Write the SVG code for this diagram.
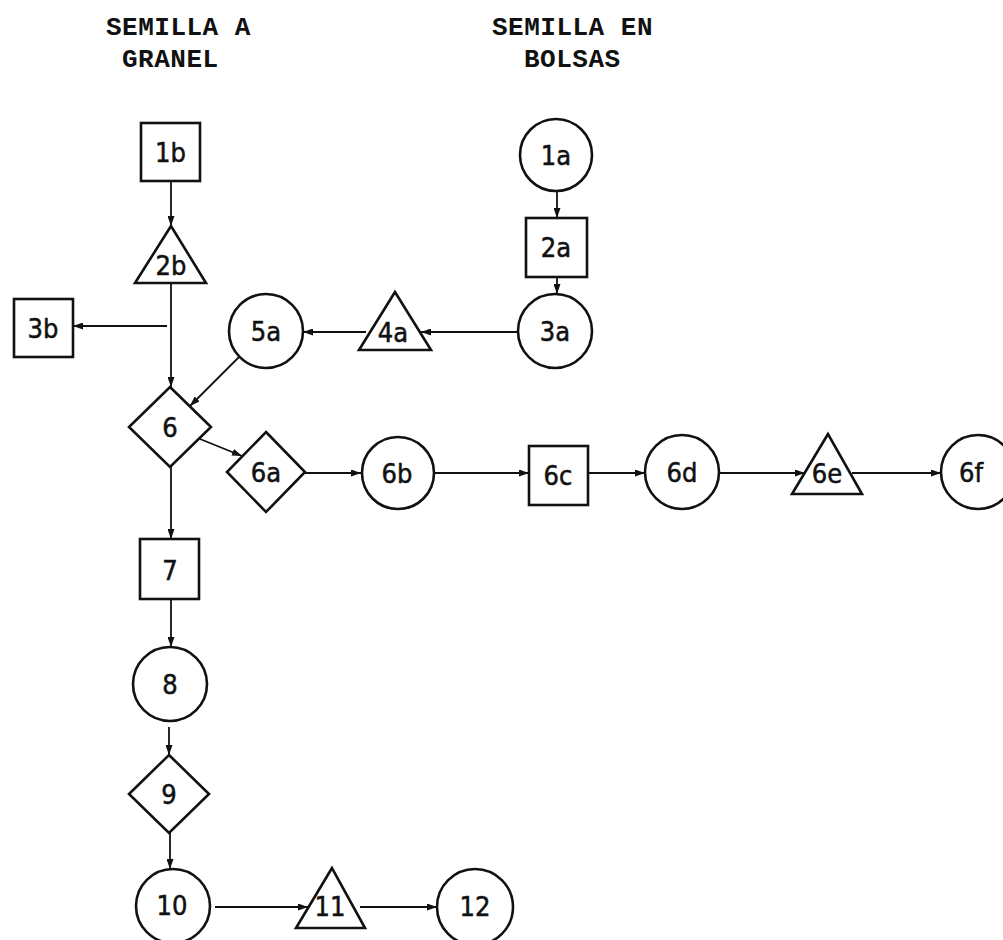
<svg xmlns="http://www.w3.org/2000/svg" width="1003" height="940" viewBox="0 0 1003 940">
<defs>
<style>
.title{font-family:"Liberation Mono","DejaVu Sans Mono",monospace;font-size:26px;letter-spacing:0.5px;font-weight:bold;fill:#111}
.lbl{font-family:"DejaVu Sans Condensed","DejaVu Sans",sans-serif;font-stretch:condensed;font-size:27px;fill:#111;stroke:#111;stroke-width:0.5;text-anchor:middle}
.shp{fill:#fff;stroke:#111;stroke-width:2.6}
.con line{stroke:#111;stroke-width:1.8;fill:none}
.arr{marker-end:url(#ah)}
</style>
<marker id="ah" markerUnits="userSpaceOnUse" markerWidth="10" markerHeight="7" refX="10" refY="3.5" orient="auto">
<path d="M0,0 L10,3.5 L0,7 Z" fill="#111"/>
</marker>
</defs>
<rect width="1003" height="940" fill="#fff"/>
<g id="titles">
<text class="title" x="106" y="35">SEMILLA A</text>
<text class="title" x="122" y="67">GRANEL</text>
<text class="title" x="492" y="35">SEMILLA EN</text>
<text class="title" x="524" y="67">BOLSAS</text>
</g>
<g class="con" id="connectors">
<line class="arr" x1="171" y1="181" x2="171" y2="226"/>
<line class="arr" x1="557" y1="192" x2="557" y2="218"/>
<line class="arr" x1="557" y1="277" x2="557" y2="294"/>
<line class="arr" x1="518" y1="332" x2="421" y2="332"/>
<line class="arr" x1="366" y1="332" x2="303" y2="332"/>
<line class="arr" x1="171" y1="283" x2="171" y2="387"/>
<line class="arr" x1="167" y1="326" x2="73" y2="326"/>
<line class="arr" x1="239" y1="357" x2="190" y2="406"/>
<line class="arr" x1="200" y1="439" x2="242" y2="456"/>
<line class="arr" x1="305" y1="473" x2="361" y2="473"/>
<line class="arr" x1="433" y1="473" x2="529" y2="473"/>
<line class="arr" x1="588" y1="473" x2="645" y2="473"/>
<line class="arr" x1="719" y1="473" x2="805" y2="473"/>
<line class="arr" x1="852" y1="473" x2="941" y2="473"/>
<line class="arr" x1="171" y1="467" x2="171" y2="539"/>
<line class="arr" x1="171" y1="599" x2="171" y2="647"/>
<line class="arr" x1="169" y1="727" x2="169" y2="755"/>
<line class="arr" x1="170" y1="833" x2="170" y2="869"/>
<line class="arr" x1="215" y1="907" x2="308" y2="907"/>
<line class="arr" x1="360" y1="907" x2="437" y2="907"/>
</g>
<g id="n1b"><rect class="shp" x="141" y="123" width="59" height="58"/><text class="lbl" x="170.5" y="162">1b</text></g>
<g id="n2b"><polygon class="shp" points="171,226 135,283 206,283"/><text class="lbl" x="171" y="275">2b</text></g>
<g id="n3b"><rect class="shp" x="14" y="299" width="59" height="58"/><text class="lbl" x="43" y="338">3b</text></g>
<g id="n1a"><circle class="shp" cx="556" cy="155" r="36"/><text class="lbl" x="556" y="165">1a</text></g>
<g id="n2a"><rect class="shp" x="526" y="218" width="61" height="59"/><text class="lbl" x="556" y="257">2a</text></g>
<g id="n3a"><circle class="shp" cx="555" cy="331" r="37"/><text class="lbl" x="555" y="341">3a</text></g>
<g id="n4a"><polygon class="shp" points="395,292 359,350 431,350"/><text class="lbl" x="393" y="342">4a</text></g>
<g id="n5a"><circle class="shp" cx="266" cy="331" r="37"/><text class="lbl" x="266" y="341">5a</text></g>
<g id="n6"><polygon class="shp" points="170,387 211,427 170,467 129,427"/><text class="lbl" x="170" y="437">6</text></g>
<g id="n6a"><polygon class="shp" points="266,432 305,472 266,512 227,472"/><text class="lbl" x="266" y="482">6a</text></g>
<g id="n6b"><circle class="shp" cx="398" cy="473" r="36"/><text class="lbl" x="397" y="483">6b</text></g>
<g id="n6c"><rect class="shp" x="529" y="446" width="59" height="59"/><text class="lbl" x="558" y="485">6c</text></g>
<g id="n6d"><circle class="shp" cx="682" cy="472" r="37"/><text class="lbl" x="682" y="482">6d</text></g>
<g id="n6e"><polygon class="shp" points="828,434 792,494 862,494"/><text class="lbl" x="827" y="483">6e</text></g>
<g id="n6f"><circle class="shp" cx="978" cy="472" r="37"/><text class="lbl" x="971" y="482">6f</text></g>
<g id="n7"><rect class="shp" x="140" y="539" width="59" height="60"/><text class="lbl" x="170" y="580">7</text></g>
<g id="n8"><circle class="shp" cx="170" cy="684" r="37"/><text class="lbl" x="170" y="694">8</text></g>
<g id="n9"><polygon class="shp" points="169,755 209,794 169,833 129,794"/><text class="lbl" x="169" y="804">9</text></g>
<g id="n10"><circle class="shp" cx="173" cy="906" r="37"/><text class="lbl" x="172" y="915">10</text></g>
<g id="n11"><polygon class="shp" points="332,868 296,928 365,928"/><text class="lbl" x="330" y="916">11</text></g>
<g id="n12"><circle class="shp" cx="475" cy="907" r="38"/><text class="lbl" x="475" y="916">12</text></g>
</svg>
